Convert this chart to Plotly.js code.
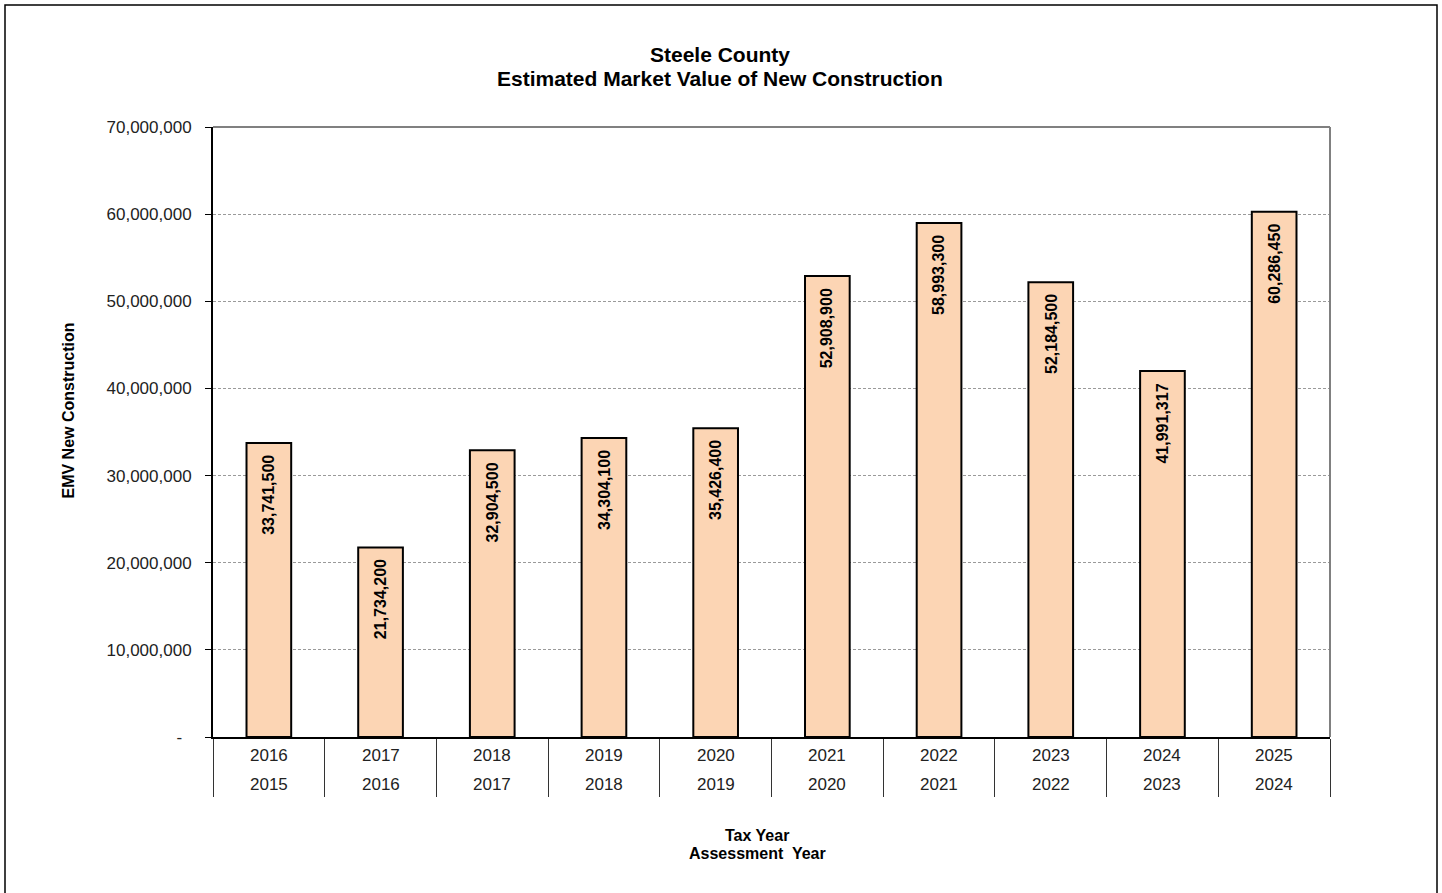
<!DOCTYPE html>
<html>
<head>
<meta charset="utf-8">
<script src="https://cdn.plot.ly/plotly-3.0.1.min.js"></script>
<style>html,body{margin:0;padding:0;background:#fff;}#chart{width:1442px;height:893px;}</style>
</head>
<body>
<div id="chart"></div>
<script>
const taxYears = ["2016","2017","2018","2019","2020","2021","2022","2023","2024","2025"];
const assessmentYears = ["2015","2016","2017","2018","2019","2020","2021","2022","2023","2024"];
const emvValues = [33741500, 21734200, 32904500, 34304100, 35426400, 52908900, 58993300, 52184500, 41991317, 60286450];
const yTickVals = [0, 10000000, 20000000, 30000000, 40000000, 50000000, 60000000, 70000000];
const yTickText = ["-\u00a0\u00a0", "10,000,000", "20,000,000", "30,000,000", "40,000,000", "50,000,000", "60,000,000", "70,000,000"];
const titleLines = ["Steele County", "Estimated Market Value of New Construction"];
const xTitleLines = ["Tax Year", "Assessment  Year"];

const FONT = "Liberation Sans, Arial, sans-serif";
const fmt = v => v.toLocaleString("en-US");

const trace = {
  type: "bar",
  x: taxYears,
  y: emvValues,
  width: 0.4,
  marker: {color: "#FCD5B4", line: {color: "#000", width: 2}},
  hoverinfo: "skip"
};

const annotations = [];
taxYears.forEach((cat, i) => {
  annotations.push({x: i, y: emvValues[i], xref: "x", yref: "y", text: "<b>" + fmt(emvValues[i]) + "</b>",
    textangle: -90, showarrow: false, yanchor: "top", xanchor: "center", yshift: -10,
    font: {family: FONT, size: 16, color: "#000"}});
  annotations.push({x: i, y: 0, xref: "x", yref: "paper", text: taxYears[i], showarrow: false,
    yanchor: "middle", yshift: -18, font: {family: FONT, size: 17, color: "#222"}});
  annotations.push({x: i, y: 0, xref: "x", yref: "paper", text: assessmentYears[i], showarrow: false,
    yanchor: "middle", yshift: -47, font: {family: FONT, size: 17, color: "#222"}});
});
[835, 853].forEach((py, k) => {
  annotations.push({x: (757 - 213) / 1117, y: (737 - py) / 610, xref: "paper", yref: "paper", yanchor: "middle",
    text: "<b>" + xTitleLines[k] + "</b>", showarrow: false, font: {family: FONT, size: 16, color: "#000"}});
});
[55, 78].forEach((py, k) => {
  annotations.push({x: (720 - 213) / 1117, y: (737 - py) / 610, xref: "paper", yref: "paper", yanchor: "middle",
    text: "<b>" + titleLines[k] + "</b>", showarrow: false, font: {family: FONT, size: 21, color: "#000"}});
});
annotations.push({x: (57 - 213) / 1117, y: (737 - 411) / 610, xref: "paper", yref: "paper",
  text: "<b>EMV New Construction</b>", textangle: -90, showarrow: false,
  font: {family: FONT, size: 16, color: "#000"}});

const shapes = [
  {type: "rect", xref: "paper", yref: "paper", x0: (5 - 213) / 1117, x1: (1437 - 213) / 1117,
   y0: (737 - 900) / 610, y1: (737 - 5) / 610, line: {color: "#000", width: 1.5}, layer: "below"},
  {type: "line", xref: "paper", yref: "paper", x0: 0, x1: 1, y0: 1, y1: 1, line: {color: "#808080", width: 2}},
  {type: "line", xref: "paper", yref: "paper", x0: 1, x1: 1, y0: 0, y1: 1, line: {color: "#808080", width: 2}}
];

const layout = {
  width: 1442, height: 893,
  margin: {l: 213, r: 112, t: 127, b: 156},
  paper_bgcolor: "#fff", plot_bgcolor: "#fff",
  showlegend: false,
  xaxis: {
    type: "category", range: [-0.5, 9.5], showticklabels: false,
    ticks: "outside", tickson: "boundaries", ticklen: 58, tickcolor: "#333", tickwidth: 1,
    showline: true, linecolor: "#000", linewidth: 2, showgrid: false, zeroline: false, fixedrange: true
  },
  yaxis: {
    range: [0, 70000000], tickmode: "array", tickvals: yTickVals, ticktext: yTickText,
    ticks: "outside", ticklen: 6, tickcolor: "#000", tickwidth: 1, ticklabelstandoff: 10,
    showline: true, linecolor: "#000", linewidth: 2,
    showgrid: true, gridcolor: "#9a9a9a", gridwidth: 1, griddash: "3px,2px", zeroline: false,
    tickfont: {family: FONT, size: 17, color: "#222"}, fixedrange: true
  },
  annotations: annotations,
  shapes: shapes,
  bargap: 0.6
};

Plotly.newPlot("chart", [trace], layout, {displayModeBar: false, staticPlot: true});
</script>
</body>
</html>
